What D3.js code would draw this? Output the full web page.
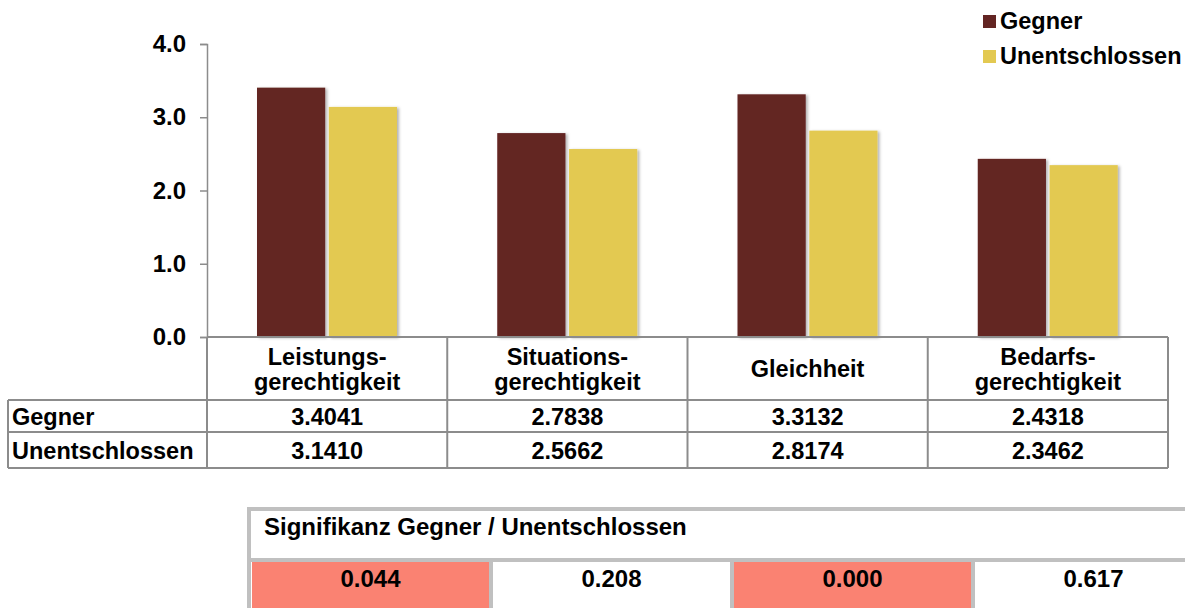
<!DOCTYPE html>
<html>
<head>
<meta charset="utf-8">
<script src="https://cdn.jsdelivr.net/npm/d3@7"></script>
<style>
  body { margin: 0; background: #fff; }
  text { font-family: "Liberation Sans", Arial, sans-serif; font-weight: bold; fill: #000; }
</style>
</head>
<body>
<div id="chart"></div>
<script>
// data
var categories = ["Leistungs-\ngerechtigkeit", "Situations-\ngerechtigkeit", "Gleichheit", "Bedarfs-\ngerechtigkeit"];
var seriesNames = ["Gegner", "Unentschlossen"];
var gegner = [3.4041, 2.7838, 3.3132, 2.4318];
var unentschlossen = [3.1410, 2.5662, 2.8174, 2.3462];
var yTicks = [0, 1, 2, 3, 4];
var sigTitle = "Signifikanz Gegner / Unentschlossen";
var sigValues = [0.044, 0.208, 0.000, 0.617];

var colors = {"Gegner": "#632523", "Unentschlossen": "#E3C951"};
var values = {"Gegner": gegner, "Unentschlossen": unentschlossen};

var width = 1185, height = 608;
var fs = 23.5;
var svg = d3.select("#chart").append("svg")
    .attr("width", width)
    .attr("height", height);

var defs = svg.append("defs");
var f = defs.append("filter").attr("id", "shadow").attr("x", "-10%").attr("y", "-10%").attr("width", "130%").attr("height", "130%");
f.append("feDropShadow").attr("dx", 2).attr("dy", 1).attr("stdDeviation", 1.5).attr("flood-color", "#000").attr("flood-opacity", 0.3);

// scales
var x = d3.scaleBand()
    .domain(d3.range(categories.length))
    .range([207, 1168]);
var xs = d3.scaleBand()
    .domain(seriesNames)
    .range([50, 190])
    .paddingInner(0.05);
var y = d3.scaleLinear()
    .domain([0, 4])
    .range([337, 44]);

var gridColor = "#8c8c8c";

// y axis
var yAxis = svg.append("g")
    .attr("transform", "translate(207,0)")
    .call(d3.axisLeft(y).tickValues(yTicks).tickSize(7).tickPadding(14).tickFormat(d3.format(".1f")));
yAxis.select(".domain").attr("stroke", gridColor).attr("stroke-width", 1.5);
yAxis.selectAll(".tick line").attr("stroke", gridColor).attr("stroke-width", 1.5);
yAxis.selectAll(".tick text").attr("font-size", 24).attr("font-family", "Liberation Sans, Arial, sans-serif").attr("font-weight", "bold").attr("fill", "#000");

// bars
var groups = svg.append("g").selectAll("g")
    .data(categories.map(function(c, i) { return i; }))
    .enter().append("g")
    .attr("transform", function(i) { return "translate(" + x(i) + ",0)"; });

groups.selectAll("rect")
    .data(function(i) { return seriesNames.map(function(s) { return {s: s, v: values[s][i]}; }); })
    .enter().append("rect")
    .attr("x", function(d) { return xs(d.s); })
    .attr("width", xs.bandwidth())
    .attr("y", function(d) { return y(d.v); })
    .attr("height", function(d) { return y(0) - y(d.v); })
    .attr("fill", function(d) { return colors[d.s]; })
    .attr("filter", "url(#shadow)");

// data table
var rowTop = [337, 400, 432, 468];
var table = svg.append("g").attr("stroke", gridColor).attr("stroke-width", 2);
table.append("line").attr("x1", 207).attr("x2", 1168).attr("y1", rowTop[0]).attr("y2", rowTop[0]);
[1, 2, 3].forEach(function(r) {
  table.append("line").attr("x1", 8).attr("x2", 1168).attr("y1", rowTop[r]).attr("y2", rowTop[r]);
});
table.append("line").attr("x1", 8).attr("x2", 8).attr("y1", rowTop[1]).attr("y2", rowTop[3]);
x.domain().concat([categories.length]).forEach(function(i) {
  var xp = i < categories.length ? x(i) : x.range()[1];
  table.append("line").attr("x1", xp).attr("x2", xp).attr("y1", rowTop[0]).attr("y2", rowTop[3]);
});

// category labels
categories.forEach(function(c, i) {
  var lines = c.split("\n");
  var cx = x(i) + x.bandwidth() / 2;
  var t = svg.append("text")
      .attr("text-anchor", "middle")
      .attr("font-size", fs)
      .attr("x", cx);
  if (lines.length === 1) {
    t.attr("y", 377).text(lines[0]);
  } else {
    lines.forEach(function(l, k) {
      t.append("tspan").attr("x", cx).attr("y", 365 + k * 25).text(l);
    });
  }
});

// row labels and values
seriesNames.forEach(function(s, r) {
  var yy = (rowTop[r + 1] + rowTop[r + 2]) / 2 + 9;
  svg.append("text").attr("x", 12).attr("y", yy).attr("font-size", fs).text(s);
  values[s].forEach(function(v, i) {
    svg.append("text")
        .attr("x", x(i) + x.bandwidth() / 2)
        .attr("y", yy)
        .attr("text-anchor", "middle")
        .attr("font-size", fs)
        .text(d3.format(".4f")(v));
  });
});

// legend
var legend = svg.append("g").selectAll("g")
    .data(seriesNames)
    .enter().append("g")
    .attr("transform", function(d, i) { return "translate(983," + (15 + i * 35) + ")"; });
legend.append("rect").attr("width", 13).attr("height", 13).attr("fill", function(d) { return colors[d]; });
legend.append("text").attr("x", 17).attr("y", 14).attr("font-size", fs).text(function(d) { return d; });

// significance table
var xsig = d3.scaleBand()
    .domain(d3.range(sigValues.length))
    .range([250, 1214]);
var sig = svg.append("g");
sig.append("rect")
    .attr("x", 249).attr("y", 509)
    .attr("width", 1000).attr("height", 120)
    .attr("fill", "#fff")
    .attr("stroke", "#c0c0c0").attr("stroke-width", 4);
sig.append("line").attr("x1", 249).attr("x2", 1200).attr("y1", 560).attr("y2", 560)
    .attr("stroke", "#c0c0c0").attr("stroke-width", 4);
sig.append("text").attr("x", 264).attr("y", 535).attr("font-size", 24).text(sigTitle);

sig.selectAll("rect.cell")
    .data(sigValues)
    .enter().append("rect")
    .attr("class", "cell")
    .attr("x", function(d, i) { return xsig(i) + 2; })
    .attr("y", 562)
    .attr("width", xsig.bandwidth() - 4)
    .attr("height", 50)
    .attr("fill", function(d) { return d < 0.05 ? "#FA8272" : "#fff"; });
sig.selectAll("line.sep")
    .data(sigValues.slice(1))
    .enter().append("line")
    .attr("class", "sep")
    .attr("x1", function(d, i) { return xsig(i + 1); })
    .attr("x2", function(d, i) { return xsig(i + 1); })
    .attr("y1", 560).attr("y2", 608)
    .attr("stroke", "#c0c0c0").attr("stroke-width", 4);
sig.selectAll("text.val")
    .data(sigValues)
    .enter().append("text")
    .attr("class", "val")
    .attr("x", function(d, i) { return xsig(i) + xsig.bandwidth() / 2; })
    .attr("y", 587)
    .attr("text-anchor", "middle")
    .attr("font-size", 24)
    .text(function(d) { return d3.format(".3f")(d); });
</script>
</body>
</html>
